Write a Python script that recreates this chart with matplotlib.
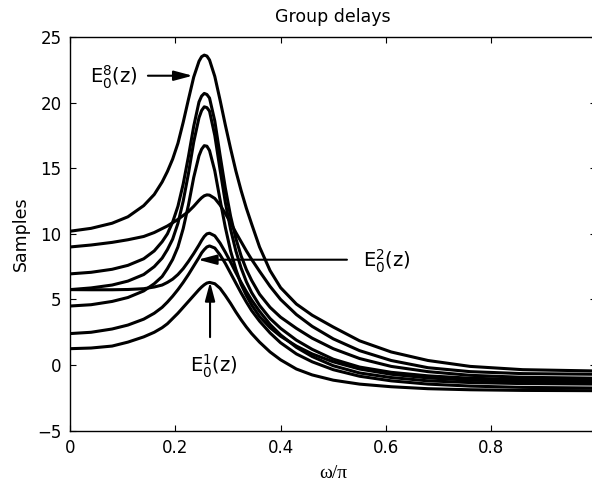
import matplotlib
matplotlib.use('Agg')
import matplotlib.pyplot as plt

# normalized frequency samples (omega / pi)
omega = [0, 0.04, 0.08, 0.11, 0.14, 0.16, 0.175, 0.185, 0.195, 0.205, 0.215, 0.225,
         0.235, 0.245, 0.25, 0.255, 0.26, 0.265, 0.275, 0.285, 0.295, 0.305, 0.315,
         0.325, 0.335, 0.345, 0.36, 0.38, 0.40, 0.43, 0.46, 0.50, 0.55, 0.61, 0.68,
         0.76, 0.86, 1.0]

# group delays (samples) of the eight polyphase components
e1 = [1.25, 1.3, 1.45, 1.75, 2.15, 2.5, 2.85, 3.15, 3.55, 3.95, 4.4, 4.85, 5.3, 5.75,
      5.95, 6.12, 6.25, 6.3, 6.2, 5.85, 5.3, 4.7, 4.05, 3.45, 2.9, 2.4, 1.75, 1.0, 0.4,
      -0.3, -0.75, -1.15, -1.45, -1.65, -1.8, -1.88, -1.93, -1.95]
e2 = [2.4, 2.5, 2.75, 3.05, 3.5, 3.95, 4.4, 4.8, 5.25, 5.75, 6.3, 6.9, 7.55, 8.2,
      8.55, 8.8, 9.0, 9.08, 8.92, 8.4, 7.75, 7.0, 6.25, 5.5, 4.8, 4.15, 3.35, 2.45, 1.7,
      0.85, 0.25, -0.35, -0.85, -1.2, -1.45, -1.6, -1.7, -1.75]
e3 = [5.75, 5.74, 5.74, 5.76, 5.82, 5.95, 6.1, 6.3, 6.55, 6.9, 7.35, 7.9, 8.5, 9.15,
      9.5, 9.8, 10.0, 10.05, 9.85, 9.3, 8.6, 7.85, 7.05, 6.3, 5.6, 4.95, 4.1, 3.1, 2.3,
      1.35, 0.65, -0.05, -0.6, -0.95, -1.2, -1.33, -1.41, -1.45]
e4 = [9.0, 9.15, 9.35, 9.55, 9.8, 10.1, 10.4, 10.6, 10.85, 11.1, 11.4, 11.7, 12.1, 12.55,
      12.75, 12.9, 12.97, 12.95, 12.7, 12.2, 11.55, 10.85, 10.1, 9.4, 8.7, 8.05, 7.15, 6.0,
      5.0, 3.85, 2.95, 2.0, 1.1, 0.35, -0.2, -0.5, -0.65, -0.7]
e5 = [4.5, 4.6, 4.85, 5.15, 5.65, 6.2, 6.75, 7.35, 8.05, 9.0, 10.4, 12.2,
      14.3, 15.95, 16.45, 16.72, 16.68, 16.35, 14.8, 12.6, 10.5, 8.7, 7.3, 6.15, 5.3,
      4.58, 3.7, 2.85, 2.2, 1.45, 0.85, 0.25, -0.3, -0.7, -0.98, -1.15, -1.25, -1.3]
e6 = [5.75, 5.88, 6.1, 6.4, 6.9, 7.5, 8.15, 8.8, 9.6, 10.8, 12.5, 14.6, 17.0, 18.85,
      19.4, 19.68, 19.62, 19.35, 17.5, 14.9, 12.4, 10.35, 8.7, 7.4, 6.35, 5.52, 4.55, 3.55,
      2.8, 1.9, 1.2, 0.45, -0.15, -0.55, -0.82, -1.0, -1.1, -1.15]
e7 = [6.95, 7.07, 7.3, 7.6, 8.1, 8.7, 9.4, 10.0, 10.9, 12.1, 13.8, 15.9, 18.2, 20.05,
      20.5, 20.7, 20.62, 20.35, 18.6, 16.0, 13.5, 11.35, 9.65, 8.32, 7.28, 6.45, 5.4, 4.4,
      3.65, 2.8, 2.05, 1.25, 0.5, -0.1, -0.5, -0.78, -0.93, -1.0]
e8 = [10.2, 10.42, 10.81, 11.3, 12.15, 13.0, 13.95, 14.75, 15.7, 16.9, 18.5, 20.25,
      21.95, 23.15, 23.5, 23.62, 23.55, 23.25, 22.0, 20.2, 18.3, 16.5, 14.8, 13.3, 11.95,
      10.75, 9.0, 7.2, 5.9, 4.65, 3.8, 2.9, 1.85, 1.0, 0.35, -0.1, -0.35, -0.45]
curves = [e1, e2, e3, e4, e5, e6, e7, e8]

xticks = [0, 0.2, 0.4, 0.6, 0.8, 1]
xticklabels = ['0', '0.2', '0.4', '0.6', '0.8', '1']
yticks = [-5, 0, 5, 10, 15, 20, 25]

plt.rcParams['font.family'] = ['DejaVu Sans']
plt.rcParams['mathtext.fontset'] = 'dejavusans'

fig = plt.figure(figsize=(5.92, 4.84), dpi=100)
ax = fig.add_axes([0.11824, 0.11012, 0.88936, 0.81343])

for c in curves:
    ax.plot(omega, c, color='k', lw=2.2, solid_joinstyle='round', solid_capstyle='round')

ax.set_xlim(0, 1)
ax.set_ylim(-5, 25)
ax.set_xticks(xticks)
ax.set_xticklabels(xticklabels)
ax.set_yticks(yticks)
ax.tick_params(direction='in', length=4, width=0.8, top=True, right=True,
               labelsize=12, pad=6)
for s in ax.spines.values():
    s.set_linewidth(1.0)

ax.set_title('Group delays', fontsize=12.5, pad=11)
ax.set_xlabel('ω/π', fontfamily='Liberation Serif', fontsize=14, labelpad=6)
ax.set_ylabel('Samples', fontsize=12.5, labelpad=5)

aprops = dict(arrowstyle='-|>,head_length=0.75,head_width=0.2', lw=1.5, color='k',
              shrinkA=0, shrinkB=0, mutation_scale=15)
ax.annotate('', xy=(0.233, 22.05), xytext=(0.148, 22.05), arrowprops=aprops)
ax.text(0.038, 21.45, 'E$_0^8$(z)', fontsize=14, ha='left', va='baseline')

ax.annotate('', xy=(0.243, 8.03), xytext=(0.526, 8.03), arrowprops=aprops)
ax.text(0.557, 7.42, 'E$_0^2$(z)', fontsize=14, ha='left', va='baseline')

ax.annotate('', xy=(0.266, 6.33), xytext=(0.266, 2.13), arrowprops=aprops)
ax.text(0.228, -0.53, 'E$_0^1$(z)', fontsize=14, ha='left', va='baseline')

fig.savefig('out.png', dpi=100)
